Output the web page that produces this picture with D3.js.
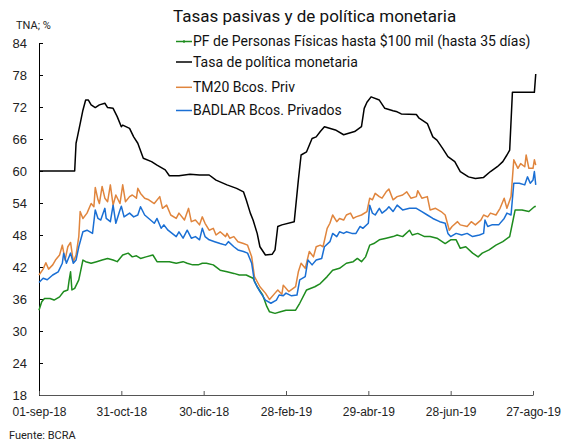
<!DOCTYPE html>
<html>
<head>
<meta charset="utf-8">
<script src="https://cdn.jsdelivr.net/npm/d3@7"></script>
<style>
  body { margin: 0; background: #fff; }
  svg { display: block; font-family: Roboto, "Noto Sans", sans-serif; }
</style>
</head>
<body>
<svg id="chart" width="565" height="443"></svg>
<script>
// días contados desde el 01-sep-18, y tasa (TNA %)
const tasaPolitica = [[0,60],[26,60],[27,65.2],[28,66.4],[30,68.9],[32,71.4],[34,73.3],[36,73.3],[38,72.4],[41,71.9],[44,72.4],[48,72.7],[50,71.9],[54,71.75],[57,70.2],[60,68.3],[61,68.6],[66,68.0],[69,66.4],[72,65.2],[76,62.4],[82,61.75],[86,61.1],[92,60.2],[95,59.1],[102,59.1],[110,59.4],[117,59.25],[124,59.25],[129,58.3],[137,57.4],[144,56.75],[149,56.1],[151,54.6],[154,52.1],[156,50.8],[159,48.3],[161,45.8],[165,44.25],[170,44.4],[172,45.2],[174,49.6],[177,49.9],[186,50.5],[189,58.3],[191,63.0],[195,63.6],[199,66.1],[202,66.4],[205,67.4],[208,68.3],[216,67.7],[222,66.8],[230,67.4],[235,68.3],[237,71.75],[239,72.9],[242,73.9],[248,73.3],[252,71.75],[258,71.3],[261,71.1],[264,70.7],[275,70.6],[277,69.9],[283,68.9],[287,66.4],[290,65.8],[294,64.3],[298,62.7],[303,61.75],[307,59.9],[313,58.9],[318,58.6],[324,58.8],[329,59.9],[334,60.8],[338,61.75],[341,63.0],[343,63.9],[345,74.75],[361,74.75],[362,78.2]];

const pfPersonas = [[0,33.9],[2,35.5],[4,36.1],[8,36.1],[11,35.8],[15,36.4],[18,37.4],[21,37.7],[22,39.6],[23,41.1],[24,37.7],[26,38.0],[29,39.6],[32,43.3],[34,43.0],[38,42.7],[42,43.0],[46,43.3],[50,43.6],[54,43.3],[57,43.0],[61,44.25],[65,44.6],[68,43.9],[71,44.1],[74,43.6],[78,43.9],[83,44.25],[86,43.0],[90,43.0],[95,43.0],[100,42.7],[105,43.0],[108,42.7],[112,42.4],[116,42.4],[119,42.7],[122,42.7],[127,42.4],[132,41.4],[137,41.1],[142,40.8],[146,40.5],[151,40.5],[156,39.9],[159,38.3],[163,36.75],[166,34.6],[168,33.6],[172,33.3],[176,33.6],[180,33.9],[187,33.9],[190,35.2],[195,37.7],[201,38.3],[205,38.9],[210,40.2],[214,41.4],[219,41.75],[224,42.7],[229,43.0],[232,43.6],[235,43.0],[238,43.9],[241,46.1],[244,46.4],[248,47.1],[253,47.4],[258,47.7],[261,48.0],[265,47.7],[270,48.9],[272,48.0],[276,48.3],[281,47.7],[285,47.7],[290,47.4],[296,46.4],[300,47.1],[304,47.1],[307,45.5],[311,45.8],[316,44.6],[320,43.9],[323,44.6],[328,45.2],[333,46.1],[338,46.75],[343,47.7],[345,50.2],[347,52.7],[352,52.7],[357,52.4],[361,53.3],[362,53.4]];

const tm20 = [[0,40.5],[3,41.6],[5,42.8],[7,41.6],[10,42.4],[12,43.3],[15,44.25],[17,46.1],[19,43.3],[21,45.8],[23,46.6],[25,43.0],[27,44.25],[29,47.7],[30,52.4],[32,51.1],[35,52.1],[38,53.9],[40,53.3],[41,56.9],[43,54.6],[44,53.9],[46,57.1],[48,54.9],[50,54.25],[52,57.4],[54,53.6],[56,55.5],[59,53.9],[61,57.4],[63,54.25],[66,55.2],[68,55.5],[71,54.9],[72,56.75],[74,55.8],[77,54.9],[80,54.6],[84,53.9],[88,55.2],[90,53.0],[93,53.6],[96,51.75],[100,51.1],[102,52.1],[106,50.8],[109,53.0],[111,50.5],[114,50.8],[117,49.9],[119,51.4],[121,50.2],[124,48.9],[127,49.25],[129,48.0],[132,48.6],[136,47.7],[137,48.3],[139,47.4],[142,47.7],[145,46.75],[149,46.4],[152,46.1],[155,43.9],[157,40.2],[161,38.3],[165,37.1],[168,35.9],[172,37.1],[174,37.7],[177,36.9],[178,38.6],[182,37.4],[187,38.3],[189,41.1],[191,42.7],[194,41.75],[197,44.9],[200,43.9],[202,45.8],[205,46.1],[207,45.8],[210,49.25],[212,50.2],[214,51.75],[217,50.5],[219,51.1],[222,50.8],[224,51.75],[227,52.1],[229,51.1],[231,51.4],[235,51.75],[239,52.4],[241,54.9],[243,54.6],[245,55.8],[248,55.2],[250,54.9],[253,56.1],[255,56.6],[258,54.6],[261,55.2],[265,55.5],[268,56.1],[271,54.9],[275,55.2],[276,56.3],[279,54.9],[283,55.2],[285,52.7],[289,53.0],[293,52.4],[296,51.75],[299,48.9],[301,49.6],[305,50.5],[307,49.9],[312,49.6],[315,50.5],[318,49.9],[322,50.8],[324,51.75],[327,51.4],[329,52.1],[333,51.75],[336,53.0],[339,54.9],[341,53.0],[344,55.2],[346,62.1],[349,60.5],[351,61.4],[354,60.8],[355,63.0],[357,60.5],[360,60.5],[361,62.1],[362,61.1]];

const badlar = [[0,39.1],[3,39.9],[6,39.6],[10,40.5],[14,41.1],[17,42.7],[18,44.6],[20,42.7],[23,44.6],[25,42.7],[27,43.3],[29,45.8],[32,48.6],[35,48.9],[39,48.3],[41,52.7],[43,51.1],[45,50.8],[48,53.0],[49,51.1],[52,50.5],[54,53.6],[56,50.2],[59,52.7],[60,53.4],[62,51.4],[66,52.1],[69,51.4],[72,51.75],[74,53.3],[77,51.75],[80,51.1],[84,50.2],[86,51.1],[89,49.25],[91,49.9],[94,48.9],[97,48.3],[100,47.7],[102,48.6],[105,47.4],[108,48.9],[111,47.4],[114,47.7],[117,47.1],[119,49.25],[121,47.7],[124,47.1],[128,46.75],[132,46.4],[136,46.1],[138,46.75],[142,45.8],[145,45.2],[149,44.9],[152,44.6],[155,42.7],[157,39.25],[161,37.4],[165,35.8],[169,35.2],[173,35.8],[175,36.75],[178,36.6],[180,37.1],[184,36.6],[188,36.75],[190,39.6],[194,40.2],[196,43.3],[199,42.4],[202,43.3],[206,43.6],[208,45.8],[212,46.75],[214,48.3],[217,47.7],[219,48.6],[222,48.3],[224,48.6],[228,48.3],[231,48.3],[234,49.6],[236,49.25],[240,50.2],[241,53.6],[243,52.1],[245,51.75],[248,53.0],[250,52.1],[253,52.7],[255,53.3],[258,52.4],[261,53.6],[265,52.7],[270,53.0],[275,53.0],[279,52.4],[283,51.75],[287,51.1],[292,50.5],[296,50.2],[298,48.3],[300,47.7],[304,48.3],[308,48.0],[312,48.3],[316,47.7],[321,48.0],[324,48.3],[325,50.8],[327,49.6],[330,49.9],[335,49.9],[339,51.1],[341,52.1],[344,51.75],[346,57.7],[350,57.7],[354,57.4],[356,58.9],[358,57.7],[360,58.3],[361,59.9],[362,57.4]];

const yTicks = [18, 24, 30, 36, 42, 48, 54, 60, 66, 72, 78, 84];
const xTickLabels = ["01-sep-18", "31-oct-18", "30-dic-18", "28-feb-19", "29-abr-19", "28-jun-19", "27-ago-19"];

const series = [
  { name: "PF de Personas Físicas hasta $100 mil (hasta 35 días)", data: pfPersonas, color: "#1e8c1e" },
  { name: "Tasa de política monetaria", data: tasaPolitica, color: "#000000" },
  { name: "TM20 Bcos. Priv", data: tm20, color: "#e0853d" },
  { name: "BADLAR Bcos. Privados", data: badlar, color: "#1a6fd4" }
];

const inicio = new Date(2018, 8, 1);
const fecha = d => new Date(2018, 8, 1 + d);

const svg = d3.select("#chart");

const x = d3.scaleTime().domain([inicio, fecha(360)]).range([39, 533]);
const y = d3.scaleLinear().domain([18, 84]).range([395, 43]);

// eje Y (ticks hacia adentro)
const yAxis = svg.append("g").attr("transform", "translate(39,0)")
  .call(d3.axisLeft(y).tickValues(yTicks).tickSize(-4).tickPadding(12).tickFormat(d3.format("d")));
yAxis.select(".domain").attr("stroke", "#000");
yAxis.selectAll(".tick line").attr("stroke", "#000");
yAxis.selectAll("text").attr("font-size", 13).attr("fill", "#222");

// eje X, un tick cada 60 días
const xTickDates = xTickLabels.map((t, i) => fecha(i * 60));
const xAxis = svg.append("g").attr("transform", "translate(0,395)")
  .call(d3.axisBottom(x).tickValues(xTickDates).tickSize(-4).tickPadding(12).tickSizeOuter(0)
    .tickFormat((d, i) => xTickLabels[i]));
xAxis.select(".domain").attr("stroke", "#555");
xAxis.selectAll(".tick line").attr("stroke", "#555");
xAxis.selectAll("text").attr("font-size", 12).attr("fill", "#222");

const line = d3.line().x(d => x(fecha(d[0]))).y(d => y(d[1]));

svg.append("g").selectAll("path").data(series).join("path")
  .attr("fill", "none")
  .attr("stroke", d => d.color)
  .attr("stroke-width", 1.5)
  .attr("stroke-linejoin", "round")
  .attr("d", d => line(d.data));

// título y textos
svg.append("text").attr("x", 173).attr("y", 22).attr("font-size", 17).attr("fill", "#111")
  .text("Tasas pasivas y de política monetaria");
svg.append("text").attr("x", 16).attr("y", 29).attr("font-size", 11).attr("fill", "#222").text("TNA; %");
svg.append("text").attr("x", 9).attr("y", 439).attr("font-size", 11).attr("fill", "#222").text("Fuente: BCRA");

// leyenda (filas con separación irregular como en el original)
const filas = [41.5, 62, 87.3, 110.5];
const legend = svg.append("g").selectAll("g").data(series).join("g")
  .attr("transform", (d, i) => `translate(176,${filas[i]})`);
legend.append("line").attr("x1", 0).attr("x2", 16).attr("stroke", d => d.color).attr("stroke-width", 1.5);
legend.filter((d, i) => i === 0).append("line").attr("x1", 8).attr("x2", 8).attr("y1", -1.5).attr("y2", 1.5)
  .attr("stroke", d => d.color).attr("stroke-width", 1.2);
legend.append("text").attr("x", 17).attr("dy", "0.35em").attr("font-size", 14).attr("fill", "#111")
  .text(d => d.name);
</script>
</body>
</html>
